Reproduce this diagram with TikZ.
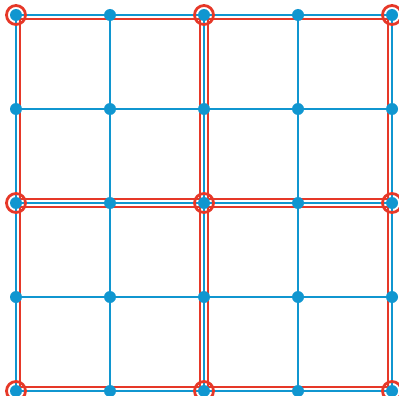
\documentclass[tikz,border=0pt]{standalone}
\definecolor{gblue}{RGB}{16,150,208}
\definecolor{gred}{RGB}{230,56,40}
\begin{document}
\begin{tikzpicture}[x=1pt,y=-1pt,
  dot/.style={circle,fill=gblue,inner sep=0pt,minimum size=12pt},
  gline/.style={gblue,line width=2.9pt},
  rsq/.style={gred,line width=2.9pt},
  ring/.style={circle,draw=gred,line width=2.8pt,inner sep=0pt,minimum size=19pt}]
\useasboundingbox (0,0) rectangle (399,396);
\foreach \i in {0,...,4}{
  \foreach \j in {0,...,4}{
    \coordinate (p\i\j) at ({16+94*\i},{15+94*\j});
  }
}
\foreach \j in {0,...,4}{
  \draw[gline] (p0\j) -- (p4\j);
  \draw[gline] (p\j0) -- (p\j4);
}
\foreach \a/\b in {0/0,2/0,0/2,2/2}{
  \draw[rsq] ({16+94*\a+4},{15+94*\b+4}) rectangle ({16+94*(\a+2)-4},{15+94*(\b+2)-4});
}
\foreach \i in {0,...,4}{
  \foreach \j in {0,...,4}{
    \node[dot] (d\i\j) at (p\i\j) {};
  }
}
\foreach \i in {0,2,4}{
  \foreach \j in {0,2,4}{
    \node[ring] (r\i\j) at (p\i\j) {};
  }
}
\end{tikzpicture}
\end{document}
